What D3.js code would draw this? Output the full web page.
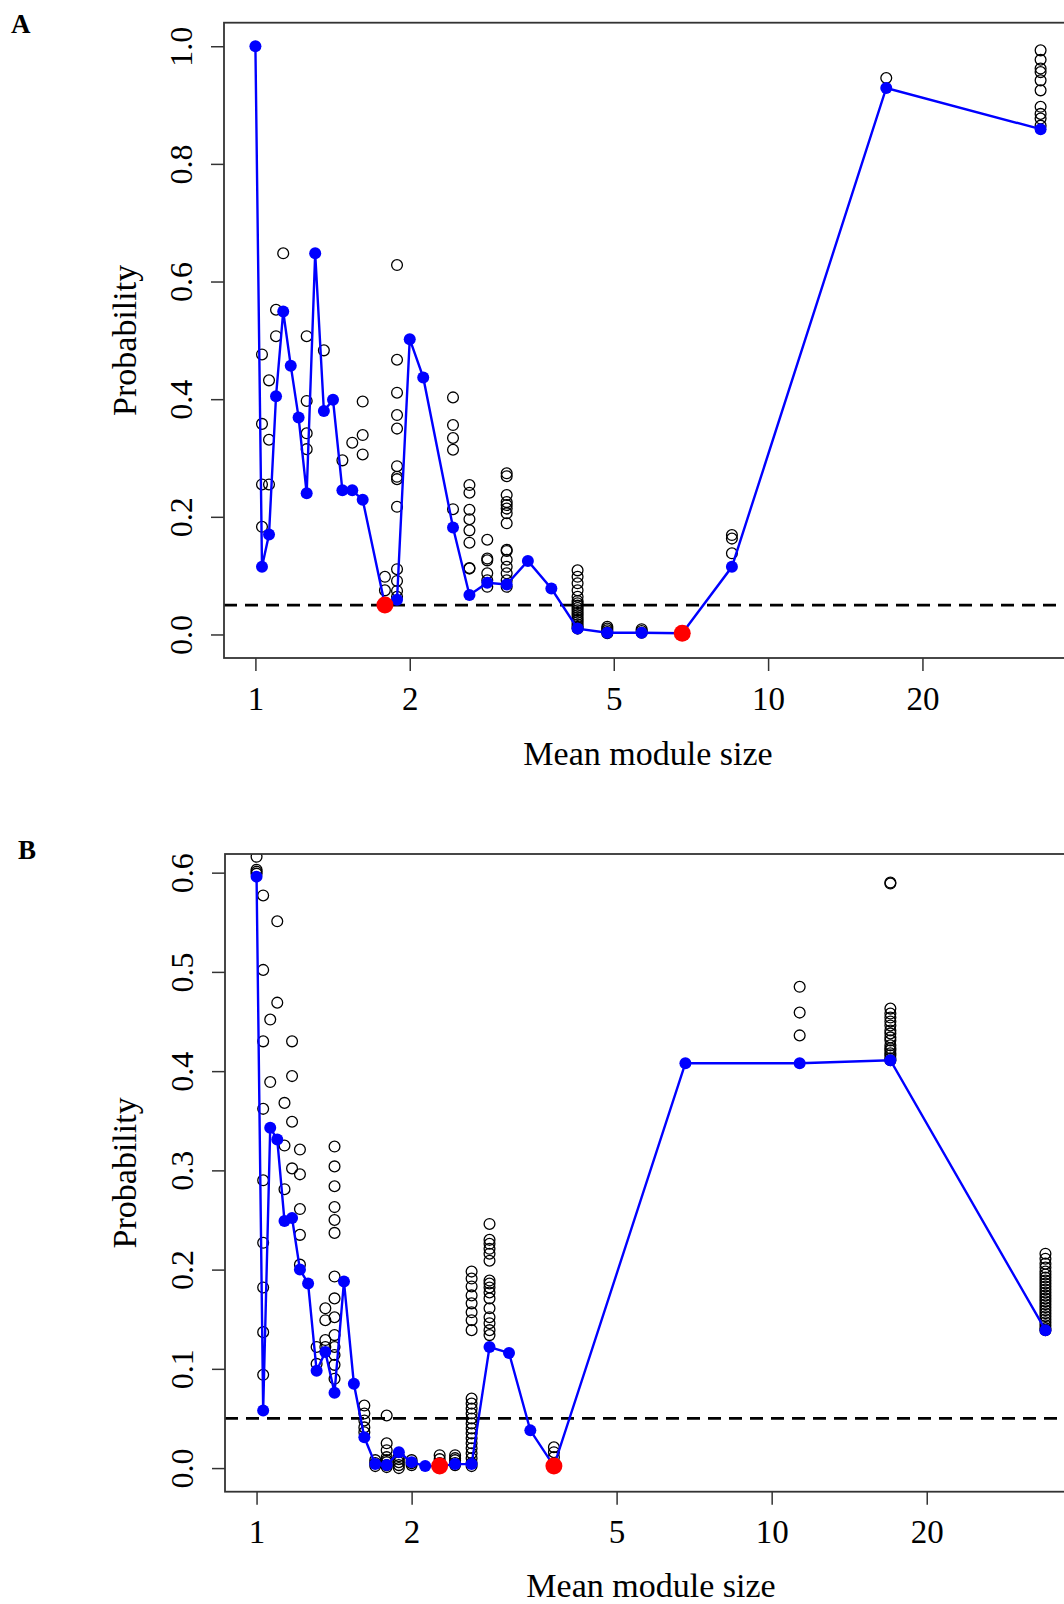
<!DOCTYPE html>
<html>
<head>
<meta charset="utf-8">
<script src="https://cdn.jsdelivr.net/npm/d3@7"></script>
<style>
  body { margin: 0; background: #fff; }
  svg text { font-family: "Liberation Serif", "Times New Roman", serif; fill: #000; }
</style>
</head>
<body>
<div id="chart"></div>
<script>

//----------------------------------------
// Data
//----------------------------------------
const xTicks = [1, 2, 5, 10, 20];
const yTicksA = [0, 0.2, 0.4, 0.6, 0.8, 1.0];
const yTicksB = [0, 0.1, 0.2, 0.3, 0.4, 0.5, 0.6];
const threshold = 0.05;

// panel A: blue series
const sizesA = [1, 1.030, 1.063, 1.097, 1.133, 1.172, 1.214, 1.259, 1.308, 1.360, 1.417, 1.478,
  1.545, 1.619, 1.789, 1.889, 2.000, 2.125, 2.429, 2.615, 2.833, 3.091, 3.400, 3.778, 4.250,
  4.857, 5.667, 6.800, 8.500, 17, 34];
const probA = [1.000, 0.115, 0.170, 0.405, 0.549, 0.457, 0.369, 0.240, 0.648, 0.380, 0.399, 0.245,
  0.245, 0.229, 0.050, 0.059, 0.502, 0.437, 0.182, 0.067, 0.088, 0.085, 0.125, 0.078, 0.010,
  0.003, 0.003, 0.002, 0.115, 0.929, 0.859];
const redSizesA = [1.789, 6.800];
const redProbA = [0.050, 0.002];

// panel A: open circles, [size, values]
const cloudA = [
  [1.030, [0.476, 0.358, 0.255, 0.183]],
  [1.063, [0.432, 0.331, 0.255]],
  [1.097, [0.552, 0.507]],
  [1.133, [0.648]],
  [1.259, [0.507, 0.397, 0.342, 0.315]],
  [1.360, [0.483]],
  [1.478, [0.296]],
  [1.545, [0.326]],
  [1.619, [0.396, 0.339, 0.306]],
  [1.789, [0.098, 0.075]],
  [1.889, [0.628, 0.467, 0.411, 0.373, 0.350, 0.286, 0.268, 0.264, 0.217, 0.111, 0.091, 0.074, 0.064]],
  [2.429, [0.403, 0.356, 0.334, 0.314, 0.213]],
  [2.615, [0.254, 0.241, 0.212, 0.196, 0.177, 0.156, 0.113, 0.112]],
  [2.833, [0.161, 0.129, 0.126, 0.104, 0.092, 0.081]],
  [3.091, [0.274, 0.269, 0.237, 0.225, 0.220, 0.214, 0.206, 0.189, 0.144, 0.142, 0.127, 0.115, 0.104, 0.092, 0.081]],
  [4.250, [0.109, 0.098, 0.087, 0.075, 0.064, 0.057, 0.053, 0.049, 0.045, 0.041, 0.037, 0.033,
    0.029, 0.025, 0.021, 0.017, 0.013, 0.010]],
  [4.857, [0.013, 0.010, 0.007, 0.004, 0.002]],
  [5.667, [0.009, 0.006, 0.003]],
  [8.500, [0.169, 0.163, 0.138]],
  [17, [0.946]],
  [34, [0.993, 0.977, 0.962, 0.956, 0.942, 0.925, 0.897, 0.885, 0.877, 0.865]]
];

// panel B: blue series
const sizesB = [1, 1.030, 1.063, 1.097, 1.133, 1.172, 1.214, 1.259, 1.308, 1.360, 1.417, 1.478,
  1.545, 1.619, 1.700, 1.789, 1.889, 2.000, 2.125, 2.267, 2.429, 2.615, 2.833, 3.091, 3.400,
  3.778, 6.800, 11.333, 17, 34];
const probB = [0.596, 0.058, 0.343, 0.331, 0.249, 0.252, 0.200, 0.186, 0.098, 0.117, 0.076, 0.188,
  0.085, 0.031, 0.004, 0.003, 0.016, 0.006, 0.002, 0.002, 0.004, 0.004, 0.122, 0.116, 0.038,
  0.002, 0.408, 0.408, 0.411, 0.139];
const redSizesB = [2.267, 3.778];
const redProbB = [0.002, 0.002];

// panel B: open circles
const cloudB = [
  [1, [0.616, 0.603, 0.601, 0.599]],
  [1.030, [0.577, 0.502, 0.430, 0.362, 0.290, 0.227, 0.182, 0.137, 0.094]],
  [1.063, [0.452, 0.389]],
  [1.097, [0.551, 0.469]],
  [1.133, [0.368, 0.325, 0.281]],
  [1.172, [0.430, 0.395, 0.349, 0.302]],
  [1.214, [0.321, 0.296, 0.261, 0.235, 0.205]],
  [1.308, [0.122, 0.105]],
  [1.360, [0.161, 0.149, 0.129, 0.122]],
  [1.417, [0.324, 0.304, 0.284, 0.263, 0.250, 0.237, 0.193, 0.171, 0.152, 0.134, 0.122, 0.114, 0.104, 0.090]],
  [1.619, [0.063, 0.055, 0.048, 0.041, 0.036]],
  [1.700, [0.008, 0.005, 0.002]],
  [1.789, [0.053, 0.025, 0.018, 0.011, 0.008, 0.006, 0.003, 0.001]],
  [1.889, [0.012, 0.009, 0.006, 0.003, 0.000]],
  [2.000, [0.008, 0.005, 0.003]],
  [2.267, [0.013, 0.009, 0.005]],
  [2.429, [0.013, 0.010, 0.008, 0.005, 0.003]],
  [2.615, [0.198, 0.191, 0.183, 0.174, 0.166, 0.157, 0.149, 0.139, 0.070, 0.065, 0.060, 0.055,
    0.050, 0.045, 0.040, 0.035, 0.030, 0.025, 0.020, 0.015, 0.010, 0.005, 0.002]],
  [2.833, [0.246, 0.230, 0.226, 0.221, 0.216, 0.209, 0.189, 0.186, 0.182, 0.177, 0.171, 0.161,
    0.152, 0.146, 0.139, 0.134]],
  [3.778, [0.021, 0.016, 0.011]],
  [11.333, [0.485, 0.459, 0.436]],
  [17, [0.590, 0.589, 0.463, 0.458, 0.454, 0.450, 0.446, 0.441, 0.438, 0.434, 0.431, 0.426,
    0.423, 0.421, 0.418, 0.416, 0.413, 0.411]],
  [34, [0.216, 0.211, 0.206, 0.202, 0.198, 0.195, 0.192, 0.189, 0.186, 0.183, 0.180, 0.177,
    0.174, 0.171, 0.168, 0.165, 0.162, 0.159, 0.156, 0.153, 0.150, 0.147, 0.144, 0.141, 0.139]]
];

/** One R-style panel: box, log x axis, dashed threshold, points and line. */
class ModulePlot {

  constructor(svg, box, id) {
    this.svg = svg;
    this.box = box;
    this.id = id;
  }

  draw(p) {
    const b = this.box;
    const g = this.svg.append('g');

    // R pads each range by 4%
    const lx = [Math.log10(1), Math.log10(34)];
    const px = 0.04 * (lx[1] - lx[0]);
    const x = d3.scaleLog()
      .domain([Math.pow(10, lx[0] - px), Math.pow(10, lx[1] + px)])
      .range([b.left, b.left + b.width]);
    const py = 0.04 * (p.ylim[1] - p.ylim[0]);
    const y = d3.scaleLinear()
      .domain([p.ylim[0] - py, p.ylim[1] + py])
      .range([b.bottom, b.top]);

    g.append('clipPath').attr('id', 'clip' + this.id)
      .append('rect')
      .attr('x', b.left).attr('y', b.top)
      .attr('width', b.width).attr('height', b.bottom - b.top);

    //----------------------------------------
    // Axes
    //----------------------------------------
    g.append('g')
      .attr('transform', `translate(0,${b.bottom})`)
      .call(d3.axisBottom(x).tickValues(xTicks).tickFormat(d3.format('d'))
        .tickSize(13).tickSizeOuter(0))
      .attr('font-family', null).attr('font-size', 33)
      .call(a => a.select('.domain').remove())
      .call(a => a.selectAll('.tick line').attr('stroke', '#333').attr('stroke-width', 1.5))
      .call(a => a.selectAll('.tick text').attr('y', 51.5).attr('dy', 0));

    g.append('g')
      .attr('transform', `translate(${b.left},0)`)
      .call(d3.axisLeft(y).tickValues(p.yTicks).tickFormat(d3.format('.1f'))
        .tickSize(13).tickSizeOuter(0))
      .attr('font-family', null).attr('font-size', 32)
      .call(a => a.select('.domain').remove())
      .call(a => a.selectAll('.tick line').attr('stroke', '#333').attr('stroke-width', 1.5))
      .call(a => a.selectAll('.tick text')
        .attr('x', 0).attr('y', -32).attr('dy', 0)
        .attr('transform', 'rotate(-90)')
        .attr('text-anchor', 'middle'));

    //----------------------------------------
    // Plot contents (clipped to the box)
    //----------------------------------------
    const inner = g.append('g').attr('clip-path', `url(#clip${this.id})`);

    inner.append('line')
      .attr('x1', b.left).attr('x2', b.left + b.width)
      .attr('y1', y(threshold)).attr('y2', y(threshold))
      .attr('stroke', '#000').attr('stroke-width', 2.8)
      .attr('stroke-dasharray', '13,8');

    let cloud = [];
    p.cloud.forEach(([s, vals]) => vals.forEach(v => cloud.push({s: s, v: v})));
    inner.selectAll('circle.open')
      .data(cloud)
      .enter()
      .append('circle')
      .attr('class', 'open')
      .attr('cx', d => x(d.s))
      .attr('cy', d => y(d.v))
      .attr('r', 5.4)
      .attr('fill', 'none')
      .attr('stroke', '#000')
      .attr('stroke-width', 1.3);

    const series = p.sizes.map((s, i) => ({s: s, v: p.probs[i]}));
    inner.append('path')
      .datum(series)
      .attr('d', d3.line().x(d => x(d.s)).y(d => y(d.v)))
      .attr('fill', 'none')
      .attr('stroke', '#0000ff')
      .attr('stroke-width', 2.4);

    inner.selectAll('circle.dot')
      .data(series)
      .enter()
      .append('circle')
      .attr('class', 'dot')
      .attr('cx', d => x(d.s))
      .attr('cy', d => y(d.v))
      .attr('r', 6)
      .attr('fill', '#0000ff');

    const red = p.redSizes.map((s, i) => ({s: s, v: p.redProbs[i]}));
    inner.selectAll('circle.red')
      .data(red)
      .enter()
      .append('circle')
      .attr('class', 'red')
      .attr('cx', d => x(d.s))
      .attr('cy', d => y(d.v))
      .attr('r', 8.5)
      .attr('fill', '#ff0000');

    //----------------------------------------
    // Box and labels
    //----------------------------------------
    g.append('rect')
      .attr('x', b.left).attr('y', b.top)
      .attr('width', b.width).attr('height', b.bottom - b.top)
      .attr('fill', 'none').attr('stroke', '#333').attr('stroke-width', 1.8);

    g.append('text')
      .attr('x', b.left + b.width / 2)
      .attr('y', Math.min(b.bottom + 107, 1597))
      .attr('text-anchor', 'middle')
      .attr('font-size', 34)
      .text('Mean module size');

    g.append('text')
      .attr('transform', `translate(136,${(b.top + b.bottom) / 2}) rotate(-90)`)
      .attr('text-anchor', 'middle')
      .attr('font-size', 34)
      .text('Probability');

    g.append('text')
      .attr('x', p.tag.x).attr('y', p.tag.y)
      .attr('font-size', 27)
      .attr('font-weight', 'bold')
      .text(p.tag.label);
  }
}

const svg = d3.select('#chart').append('svg')
  .attr('width', 1064)
  .attr('height', 1604);

new ModulePlot(svg, {left: 224, top: 22.7, bottom: 658, width: 848}, 'A').draw({
  sizes: sizesA, probs: probA, redSizes: redSizesA, redProbs: redProbA,
  cloud: cloudA, ylim: [0, 1], yTicks: yTicksA, tag: {label: 'A', x: 11, y: 33}
});

new ModulePlot(svg, {left: 225, top: 854, bottom: 1491.7, width: 852}, 'B').draw({
  sizes: sizesB, probs: probB, redSizes: redSizesB, redProbs: redProbB,
  cloud: cloudB, ylim: [0, 0.595], yTicks: yTicksB, tag: {label: 'B', x: 18, y: 859}
});

</script>
</body>
</html>
